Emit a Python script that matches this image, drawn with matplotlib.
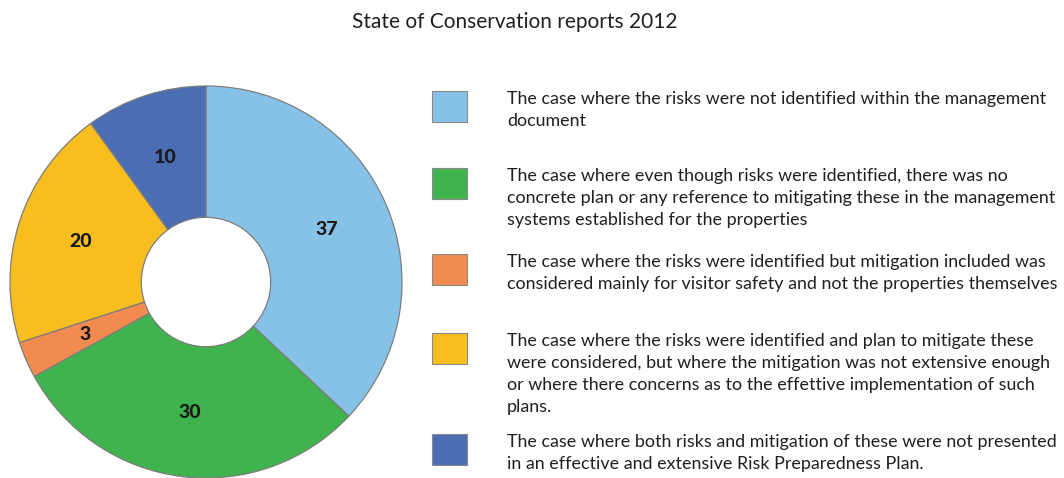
import matplotlib
matplotlib.use("Agg")
import matplotlib.pyplot as plt
from matplotlib.patches import Rectangle

W, H = 1064, 478

title = "State of Conservation reports 2012"
values = [37, 30, 3, 20, 10]
colors = ["#86c2e7", "#3fb44e", "#f28b4f", "#f8bd1e", "#4a6db4"]
descriptions = [
    "The case where the risks were not identified within the management\ndocument",
    "The case where even though risks were identified, there was no\n"
    "concrete plan or any reference to mitigating these in the management\n"
    "systems established for the properties",
    "The case where the risks were identified but mitigation included was\n"
    "considered mainly for visitor safety and not the properties themselves",
    "The case where the risks were identified and plan to mitigate these\n"
    "were considered, but where the mitigation was not extensive enough\n"
    "or where there concerns as to the effettive implementation of such\n"
    "plans.",
    "The case where both risks and mitigation of these were not presented\n"
    "in an effective and extensive Risk Preparedness Plan.",
]
# top pixel row of each legend swatch / text block
legend_top = [91, 168, 254, 333, 434]

plt.rcParams["font.family"] = ["Lato", "DejaVu Sans"]

fig = plt.figure(figsize=(W / 100, H / 100), dpi=100)


def fx(px):
    return px / W


def fy(py):
    return 1 - py / H


# donut
R = 196
cx, cy = 206, 282
ax = fig.add_axes([fx(cx - R), fy(cy + R), 2 * R / W, 2 * R / H])
wedges, _, autotexts = ax.pie(
    values, colors=colors, startangle=90, counterclock=False,
    autopct=lambda p: f"{p * sum(values) / 100:.0f}", pctdistance=0.67,
    wedgeprops=dict(width=0.67, edgecolor="#7d7d7d", linewidth=0.9),
    textprops=dict(fontsize=14, fontweight="black", color="#1a1a1a"),
)
ax.set_xlim(-1, 1)
ax.set_ylim(-1, 1)
ax.set_aspect("equal")

fig.text(fx(515), fy(22), title, ha="center", va="center", fontsize=15, color="#231f20")

# legend swatches and wrapped descriptions
for col, desc, top in zip(colors, descriptions, legend_top):
    fig.patches.append(Rectangle((fx(432), fy(top + 31)), 35 / W, 31 / H,
                                 transform=fig.transFigure, facecolor=col,
                                 edgecolor="#8a8a8a", linewidth=0.8))
    fig.text(fx(507), fy(top), desc, ha="left", va="top", fontsize=12.9,
             color="#231f20", linespacing=1.46)

fig.savefig("out.png", dpi=100)
